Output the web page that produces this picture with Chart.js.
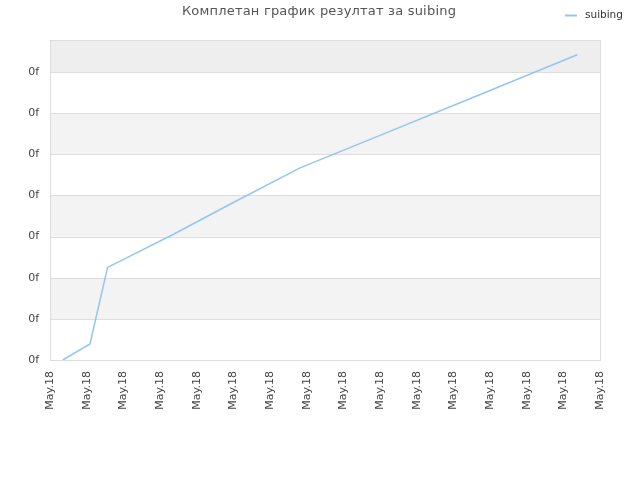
<!DOCTYPE html>
<html>
<head>
<meta charset="utf-8">
<script src="https://cdn.jsdelivr.net/npm/chart.js@4/dist/chart.umd.min.js"></script>
<style>
html,body{margin:0;padding:0;background:#fff;}
#wrap{width:640px;height:480px;position:relative;}
</style>
</head>
<body>
<div id="wrap"><canvas id="c" width="640" height="480"></canvas></div>
<script>
const chartTitle = 'Комплетан график резултат за suibing';
const seriesName = 'suibing';
const xTickLabels = ['May.18','May.18','May.18','May.18','May.18','May.18','May.18','May.18','May.18','May.18','May.18','May.18','May.18','May.18','May.18','May.18'];
const yTickLabels = ['0f','0f','0f','0f','0f','0f','0f','0f'];
const xPositions = [0.35, 1.09, 1.57, 3.33, 5.0, 6.82, 9.0, 11.5, 14.38];
const yValues = [0.0, 0.39, 2.25, 3.04, 3.83, 4.67, 5.46, 6.37, 7.42];
const yMax = 7.78;

const lineColor = '#95c4f3';

const bandsPlugin = {
  id: 'bands',
  beforeDatasetsDraw(chart) {
    const {ctx, chartArea: a, scales: {y}} = chart;
    ctx.save();
    const top = a.top;
    ctx.fillStyle = '#eeeeee';
    ctx.fillRect(a.left, top, a.right - a.left, y.getPixelForValue(7) - top);
    ctx.fillStyle = '#f3f3f3';
    [1,3,5].forEach(v => {
      const p1 = y.getPixelForValue(v + 1), p0 = y.getPixelForValue(v);
      ctx.fillRect(a.left, p1, a.right - a.left, p0 - p1);
    });
    ctx.strokeStyle = '#dddddd';
    ctx.lineWidth = 1;
    for (let v = 0; v < yTickLabels.length; v++) {
      const p = Math.round(y.getPixelForValue(v)) + 0.5;
      ctx.beginPath(); ctx.moveTo(a.left, p); ctx.lineTo(a.right, p); ctx.stroke();
    }
    ctx.strokeRect(Math.round(a.left) + 0.5, Math.round(a.top) + 0.5, Math.round(a.right - a.left), Math.round(a.bottom - a.top));
    ctx.restore();
  },
  afterDraw(chart) {
    const ctx = chart.ctx;
    ctx.save();
    ctx.fillStyle = '#555555';
    ctx.font = '13px "DejaVu Sans"';
    ctx.textAlign = 'center';
    ctx.textBaseline = 'middle';
    if ('letterSpacing' in ctx) ctx.letterSpacing = '0.2px';
    ctx.fillText(chartTitle, 319, 12);
    if ('letterSpacing' in ctx) ctx.letterSpacing = '0px';
    ctx.strokeStyle = lineColor;
    ctx.lineWidth = 2;
    ctx.beginPath(); ctx.moveTo(565, 15.5); ctx.lineTo(577, 15.5); ctx.stroke();
    ctx.fillStyle = '#333333';
    ctx.font = '10.5px "DejaVu Sans"';
    ctx.textAlign = 'left';
    ctx.fillText(seriesName, 585, 15);
    ctx.restore();
  }
};

new Chart(document.getElementById('c'), {
  type: 'line',
  data: {
    datasets: [{
      label: seriesName,
      data: xPositions.map((x, i) => ({x: x, y: yValues[i]})),
      borderColor: lineColor,
      borderWidth: 1.5,
      pointRadius: 0,
      tension: 0,
      fill: false
    }]
  },
  options: {
    responsive: false,
    animation: false,
    devicePixelRatio: 1,
    layout: {padding: {top: 40, right: 40, left: 0, bottom: 0}},
    plugins: {legend: {display: false}, title: {display: false}, tooltip: {enabled: false}},
    scales: {
      x: {
        type: 'linear', min: 0, max: 15,
        afterBuildTicks(s) { s.ticks = xTickLabels.map((_, i) => ({value: i})); },
        afterFit(s) { s.height = 120; },
        grid: {display: false, drawTicks: false},
        border: {display: false},
        ticks: {
          autoSkip: false, maxRotation: 90, minRotation: 90, padding: 11,
          color: '#444444', font: {family: 'DejaVu Sans', size: 11},
          callback: (v, i) => xTickLabels[i]
        }
      },
      y: {
        type: 'linear', min: 0, max: yMax,
        afterBuildTicks(s) { s.ticks = yTickLabels.map((_, i) => ({value: i})); },
        afterFit(s) { s.width = 50; },
        grid: {display: false, drawTicks: false},
        border: {display: false},
        ticks: {
          padding: 11,
          color: '#444444', font: {family: 'DejaVu Sans', size: 11},
          callback: (v, i) => yTickLabels[i]
        }
      }
    }
  },
  plugins: [bandsPlugin]
});
</script>
</body>
</html>
